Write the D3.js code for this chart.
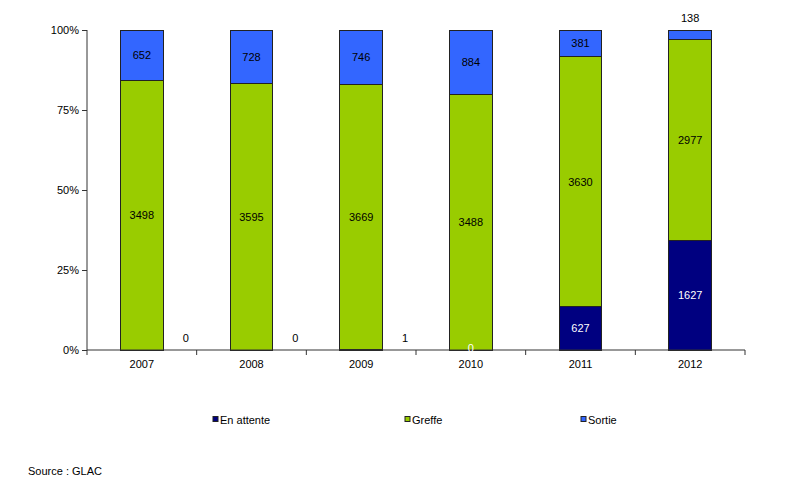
<!DOCTYPE html>
<html>
<head>
<meta charset="utf-8">
<script src="https://cdn.jsdelivr.net/npm/d3@7"></script>
<style>
  body { margin: 0; background: #fff; }
  text { font-family: "Liberation Sans", Arial, sans-serif; font-size: 11px; }
</style>
</head>
<body>
<script>
var years = ["2007", "2008", "2009", "2010", "2011", "2012"];
var enAttente = [0, 0, 1, 0, 627, 1627];
var greffe = [3498, 3595, 3669, 3488, 3630, 2977];
var sortie = [652, 728, 746, 884, 381, 138];
var seriesNames = ["En attente", "Greffe", "Sortie"];
var yTicks = [0, 0.25, 0.5, 0.75, 1];

var colors = {
  "En attente": "#000080",
  "Greffe": "#99cc00",
  "Sortie": "#3366ff"
};
var labelColors = {
  "En attente": "#ffffff",
  "Greffe": "#000000",
  "Sortie": "#000000"
};

var width = 800, height = 482;
var plotLeft = 87, plotRight = 745, plotTop = 30, plotBottom = 350;

var svg = d3.select("body").append("svg")
  .attr("width", width)
  .attr("height", height);

var x = d3.scaleBand().domain(years).range([plotLeft, plotRight]).paddingInner(0).paddingOuter(0);
var y = d3.scaleLinear().domain([0, 1]).range([plotBottom, plotTop]);
var barW = x.bandwidth() * 0.39;

var rows = years.map(function(yr, i) {
  return { year: yr, "En attente": enAttente[i], "Greffe": greffe[i], "Sortie": sortie[i],
           total: enAttente[i] + greffe[i] + sortie[i] };
});
var stacked = d3.stack().keys(seriesNames)
  .value(function(d, k) { return d[k] / d.total; })(rows);

// bars
stacked.forEach(function(layer) {
  svg.append("g").selectAll("rect")
    .data(layer)
    .enter()
    .append("rect")
    .attr("x", function(d) { return x(d.data.year) + (x.bandwidth() - barW) / 2; })
    .attr("width", barW)
    .attr("y", function(d) { return y(d[1]); })
    .attr("height", function(d) { return y(d[0]) - y(d[1]); })
    .attr("fill", colors[layer.key])
    .attr("stroke", function(d) { return (d[1] - d[0]) > 0 ? "#222" : "none"; })
    .attr("stroke-width", 1)
    .attr("shape-rendering", "crispEdges");
});

// axes
var yAxis = svg.append("g")
  .attr("transform", "translate(" + plotLeft + ",0)")
  .call(d3.axisLeft(y).tickValues(yTicks).tickFormat(d3.format(".0%")).tickSize(5).tickPadding(3));
var xAxis = svg.append("g")
  .attr("transform", "translate(0," + plotBottom + ")")
  .call(d3.axisBottom(x).tickSize(0).tickPadding(10));
// category separators on x axis
svg.append("g").selectAll("line")
  .data(years.concat(["end"]))
  .enter()
  .append("line")
  .attr("x1", function(d, i) { return i < years.length ? x(d) : plotRight; })
  .attr("x2", function(d, i) { return i < years.length ? x(d) : plotRight; })
  .attr("y1", plotBottom)
  .attr("y2", plotBottom + 5)
  .attr("stroke", "#333");
[yAxis, xAxis].forEach(function(a) {
  a.select(".domain").attr("stroke", "#333");
  a.selectAll(".tick line").attr("stroke", "#333");
  a.selectAll("text").attr("fill", "#000").style("font-family", "Liberation Sans, Arial, sans-serif").style("font-size", "11px");
});
yAxis.select(".domain").attr("d", "M0," + plotTop + "V" + plotBottom);
xAxis.select(".domain").attr("d", "M" + plotLeft + ",0H" + plotRight);

// value labels
stacked.forEach(function(layer) {
  svg.append("g").selectAll("text")
    .data(layer)
    .enter()
    .append("text")
    .attr("text-anchor", "middle")
    .attr("fill", function(d, i) {
      if (layer.key === "En attente" && i < 3) return "#000";
      return labelColors[layer.key];
    })
    .attr("x", function(d, i) {
      var cx = x(d.data.year) + x.bandwidth() / 2;
      if (layer.key === "En attente" && i < 3) return cx + x.bandwidth() * 0.4;
      return cx;
    })
    .attr("y", function(d, i) {
      var h = y(d[0]) - y(d[1]);
      if (layer.key === "En attente" && i < 3) return plotBottom - 8;
      if (layer.key === "En attente" && h < 1) return plotBottom + 2;
      if (h < 14) return y(d[1]) - 8;
      return (y(d[0]) + y(d[1])) / 2 + 4;
    })
    .text(function(d) { return d.data[layer.key]; });
});

// legend
var legendX = [213, 405, 581];
var legend = svg.append("g").selectAll("g")
  .data(seriesNames)
  .enter()
  .append("g")
  .attr("transform", function(d, i) { return "translate(" + legendX[i] + ",420)"; });
legend.append("rect")
  .attr("x", 0).attr("y", -3.5)
  .attr("width", 5).attr("height", 5)
  .attr("fill", function(d) { return colors[d]; })
  .attr("stroke", "#222");
legend.append("text")
  .attr("x", 7).attr("y", 4)
  .text(function(d) { return d; });

svg.append("text")
  .attr("x", 28).attr("y", 475)
  .text("Source : GLAC");
</script>
</body>
</html>
